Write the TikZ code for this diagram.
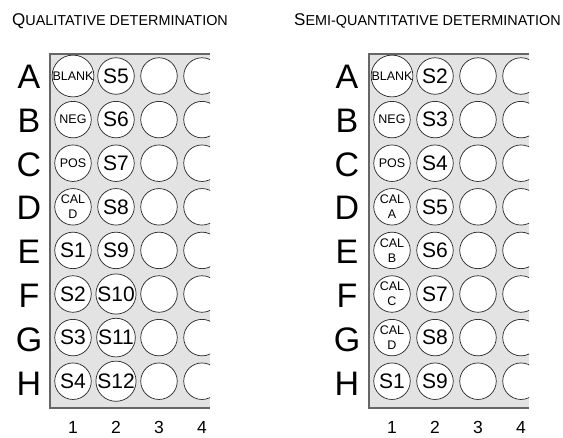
\documentclass[tikz,border=0pt]{standalone}
\usepackage{fontspec}
\setmainfont{Liberation Sans}
\usepackage{tikz}
\usetikzlibrary{positioning}

\newcommand{\fsz}[1]{\fontsize{#1}{#1}\selectfont}
\newcommand{\fakesc}[2]{{\fsz{17}#1}{\fsz{14.4}#2}}

\begin{document}
\begin{tikzpicture}[
    x=1pt, y=-1pt,
    plate/.style={fill=black!11},
    plateedge/.style={draw=black!60, line width=1.1pt},
    well/.style={circle, draw=black!85, fill=white, line width=0.7pt, minimum size=36.5pt, inner sep=0pt},
    smp/.style={well, font=\fsz{21}},
    lab/.style={well, font=\fsz{12.5}},
    cal/.style={well, font=\fontsize{12.5}{15}\selectfont, align=center},
    rowlab/.style={font=\fsz{34}},
    collab/.style={font=\fsz{17.5}},
    title/.style={anchor=base west, inner sep=0pt, font=\fsz{14}}
]
\useasboundingbox (0,0) rectangle (563,437);

% Titles
\node[title] (qual-title) at (12,25) {\fakesc{Q}{UALITATIVE DETERMINATION}};
\node[title] (semi-title) at (294,25) {\fakesc{S}{EMI-QUANTITATIVE DETERMINATION}};

% Qualitative plate
\fill[plate] (50,54) rectangle (210,408);
\draw[plateedge] (210,54) -- (50,54) -- (50,408) -- (210,408);
\begin{scope}
\clip (50,54) rectangle (210,408);
\foreach \row/\ws/\wa/\wb [count=\i from 0] in {A/lab/BLANK/S5, B/lab/NEG/S6, C/lab/POS/S7, D/cal/{CAL\\D}/S8,
    E/smp/S1/S9, F/smp/S2/S10, G/smp/S3/S11, H/smp/S4/S12} {
  \node[\ws] (ql-\row1) at (73,76+43.6*\i) {\wa};
  \node[smp] (ql-\row2) at (116,76+43.6*\i) {\wb};
  \node[well] (ql-\row3) at (159,76+43.6*\i) {};
  \node[well] (ql-\row4) at (202,76+43.6*\i) {};
}
\end{scope}
\foreach \row [count=\i from 0] in {A,B,C,D,E,F,G,H}
  \node[rowlab] (ql-\row) at (29,76.5+43.9*\i) {\row};
\foreach \col in {1,2,3,4}
  \node[collab] (ql-c\col) at (73+43*\col-43,427) {\col};

% Semi-quantitative plate
\fill[plate] (369,54) rectangle (529,408);
\draw[plateedge] (529,54) -- (369,54) -- (369,408) -- (529,408);
\begin{scope}
\clip (369,54) rectangle (529,408);
\foreach \row/\ws/\wa/\wb [count=\i from 0] in {A/lab/BLANK/S2, B/lab/NEG/S3, C/lab/POS/S4, D/cal/{CAL\\A}/S5,
    E/cal/{CAL\\B}/S6, F/cal/{CAL\\C}/S7, G/cal/{CAL\\D}/S8, H/smp/S1/S9} {
  \node[\ws] (sq-\row1) at (392,76+43.6*\i) {\wa};
  \node[smp] (sq-\row2) at (435,76+43.6*\i) {\wb};
  \node[well] (sq-\row3) at (478,76+43.6*\i) {};
  \node[well] (sq-\row4) at (521,76+43.6*\i) {};
}
\end{scope}
\foreach \row [count=\i from 0] in {A,B,C,D,E,F,G,H}
  \node[rowlab] (sq-\row) at (347,76.5+43.9*\i) {\row};
\foreach \col in {1,2,3,4}
  \node[collab] (sq-c\col) at (392+43*\col-43,427) {\col};
\end{tikzpicture}
\end{document}
